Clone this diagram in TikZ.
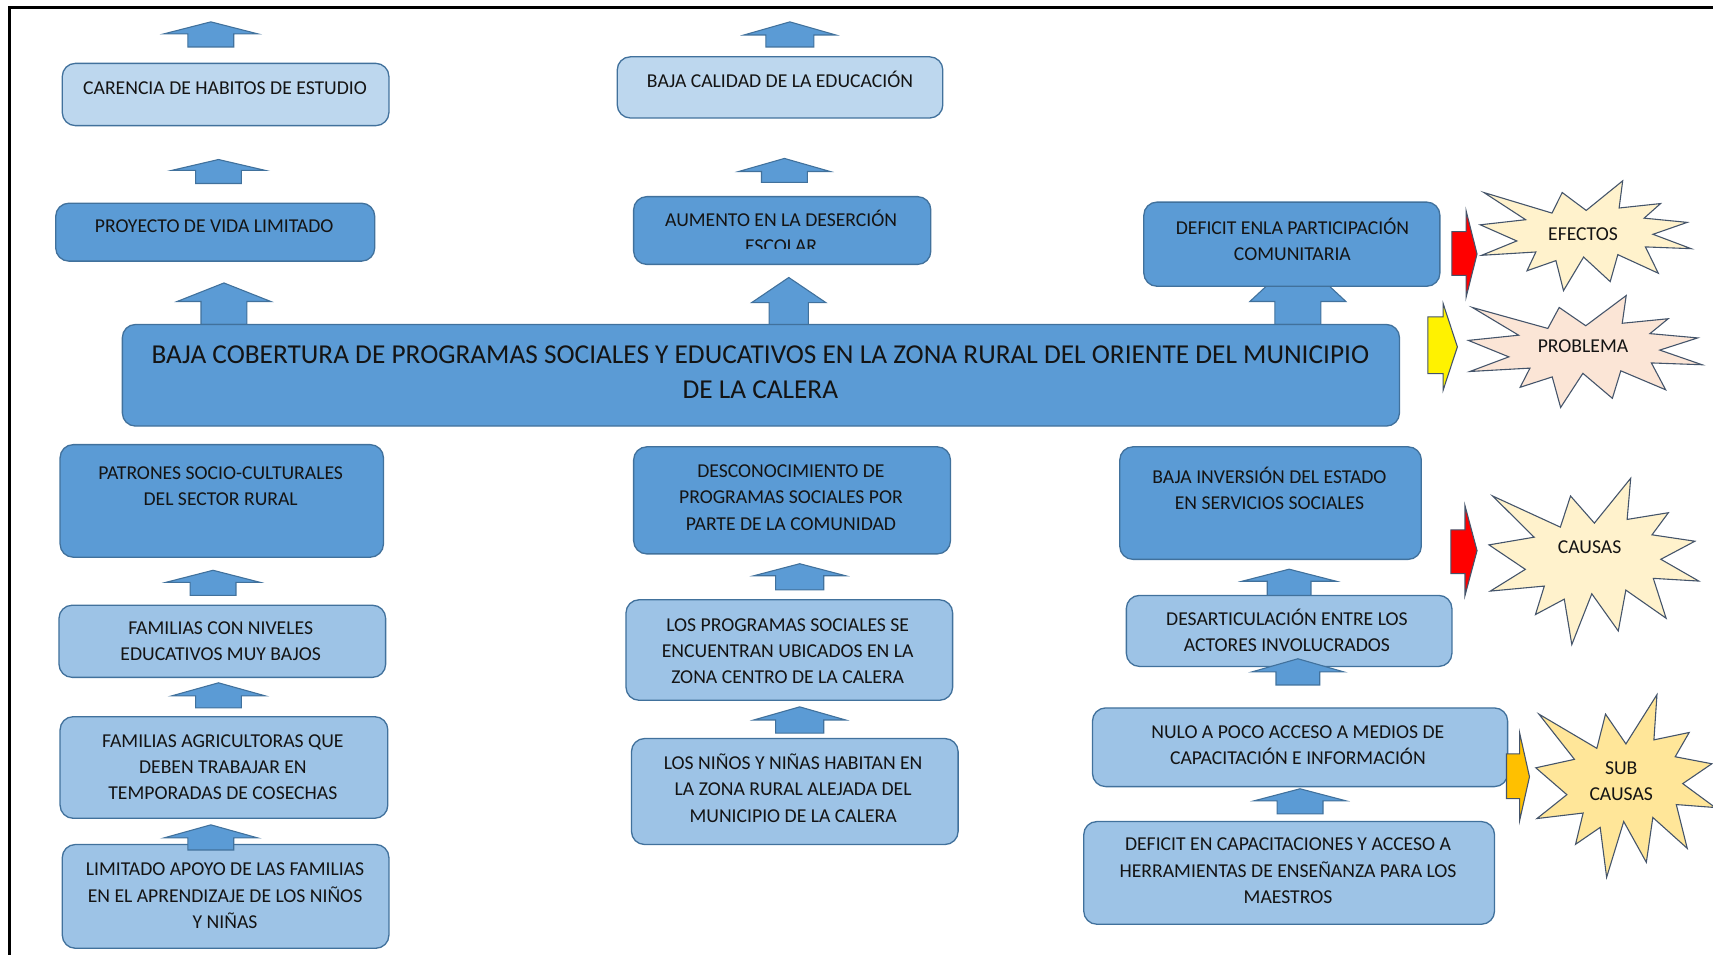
\documentclass[tikz,border=0pt]{standalone}
\usepackage{fontspec}
\setmainfont{Carlito}
\definecolor{boxline}{HTML}{41719C}
\definecolor{midfill}{HTML}{5B9BD5}
\definecolor{paleone}{HTML}{BDD7EE}
\definecolor{paletwo}{HTML}{9DC3E6}
\definecolor{txtcol}{HTML}{141414}
\definecolor{starline}{HTML}{44546A}
\definecolor{creamfill}{HTML}{FFF2CC}
\definecolor{peachfill}{HTML}{FBE5D6}
\definecolor{goldfill}{HTML}{FFE699}
\definecolor{orangefill}{HTML}{FFC000}
\newcommand\boxnode[6]{%
  \node[boxshape,#6,minimum width={(#4-#2)*0.5pt},minimum height={(#5-#3)*0.5pt}] (#1) at ({(#2+#4)/2},{(#3+#5)/2}) {};}
\newcommand\blkup[6]{%
  \draw[blkarrow] ({#1},{#2}) -- ({#1+#5},{#3}) -- ({#1+#6},{#3}) -- ({#1+#6},{#4}) -- ({#1-#6},{#4}) -- ({#1-#6},{#3}) -- ({#1-#5},{#3}) -- cycle;}
\newcommand\blkright[8]{%
  \draw[legarrow,fill=#8] ({#1},{#2}) -- ({#4},{#2}) -- ({#4},{#5}) -- ({#7},{(#5+#6)/2}) -- ({#4},{#6}) -- ({#4},{#3}) -- ({#1},{#3}) -- cycle;}
\newcommand\explosion[5]{%
  \begin{scope}[shift={(#1,#2)},xscale={#3/216},yscale={#4/216}]
  \draw[starshape,fill=#5] (109.01,59.05) -- (84.58,23.99) -- (74.17,64.25) -- (4.76,23.99) -- (47.32,77.22) -- (1.06,87.18) -- (38.28,118.80) -- (2.43,146.89) -- (57.72,140.41) -- (48.68,177.19) -- (78.19,157.30) -- (85.90,216.00) -- (106.37,150.38) -- (133.49,198.40) -- (141.25,145.61) -- (182.48,181.95) -- (169.38,130.44) -- (216.00,133.93) -- (177.10,105.79) -- (211.98,82.42) -- (168.06,74.17) -- (184.82,45.60) -- (142.57,54.29) -- (146.23,1.06) -- cycle;
  \end{scope}}
\begin{document}
\begin{tikzpicture}[x=0.5pt,y=-0.5pt,
  boxshape/.style={draw=boxline,line width=0.6pt,rounded corners=6pt,inner sep=0pt,rectangle},
  midbox/.style={fill=midfill},
  paleonebox/.style={fill=paleone},
  paletwobox/.style={fill=paletwo},
  txt/.style={font=\fontsize{9}{12}\selectfont,align=center,text=txtcol,inner sep=0pt},
  bigtxt/.style={font=\fontsize{12.5}{16}\selectfont,align=center,text=txtcol,inner sep=0pt},
  blkarrow/.style={draw=boxline,fill=midfill,line width=0.5pt,line join=miter},
  legarrow/.style={draw=starline,line width=0.5pt,line join=miter},
  starshape/.style={draw=starline,line width=0.5pt,line join=miter},
  frameline/.style={draw=black,line width=1.4pt}]
\useasboundingbox (0,0) rectangle (1568,874);
% frame
\draw[frameline] (9,874) -- (9,7) -- (1568,7);
% arrows under boxes
\blkup{205}{259}{276}{297}{43}{21}
\blkup{722}{254}{277}{298}{34}{18}
\blkup{1188}{235}{276}{297}{44}{21}
% boxes
\boxnode{e1}{57}{58}{356}{115}{paleonebox}
\boxnode{e2}{565}{52}{863}{108}{paleonebox}
\boxnode{e3}{51}{186}{343}{239}{midbox}
\boxnode{e4}{580}{180}{852}{242}{midbox}
\boxnode{e5}{1047}{185}{1318}{262}{midbox}
\boxnode{prob}{112}{297}{1281}{390}{midbox}
\boxnode{c1}{55}{407}{351}{510}{midbox}
\boxnode{c2}{580}{409}{870}{507}{midbox}
\boxnode{c3}{1025}{409}{1301}{512}{midbox}
\boxnode{s11}{54}{554}{353}{620}{paletwobox}
\boxnode{s12}{55}{656}{355}{749}{paletwobox}
\boxnode{s13}{57}{773}{356}{868}{paletwobox}
\boxnode{s21}{573}{549}{872}{641}{paletwobox}
\boxnode{s22}{578}{676}{877}{773}{paletwobox}
\boxnode{s31}{1031}{545}{1329}{610}{paletwobox}
\boxnode{s32}{1000}{648}{1380}{720}{paletwobox}
\boxnode{s33}{992}{752}{1368}{846}{paletwobox}
% other arrows
\blkup{193}{20}{31}{43}{43}{21}
\blkup{200}{146}{156}{168}{43}{21}
\blkup{723}{20}{32}{43}{42}{22}
\blkup{718}{145}{157}{167}{42}{21}
\blkup{195}{522}{533}{545}{43}{21}
\blkup{200}{625}{637}{648}{43}{21}
\blkup{193}{755}{767}{778}{43}{21}
\blkup{732}{516}{527}{540}{42}{22}
\blkup{732}{647}{659}{671}{42}{22}
\blkup{1180}{521}{532}{545}{43}{20}
\blkup{1188}{603}{615}{627}{42}{20}
\blkup{1190}{722}{733}{745}{42}{21}
% texts
\node[txt] (te1) at (206,81) {CARENCIA DE HABITOS DE ESTUDIO};
\node[txt] (te2) at (714,73) {BAJA CALIDAD DE LA EDUCACIÓN};
\node[txt] (te3) at (196,207) {PROYECTO DE VIDA LIMITADO};
\begin{scope}
\clip (580,180) rectangle (852,227);
\node[txt] (te4) at (715,212) {AUMENTO EN LA DESERCIÓN\\ESCOLAR};
\end{scope}
\node[txt] (te5) at (1183,219) {DEFICIT ENLA PARTICIPACIÓN\\COMUNITARIA};
\node[bigtxt] (tprob) at (696,341) {BAJA COBERTURA DE PROGRAMAS SOCIALES Y EDUCATIVOS EN LA ZONA RURAL DEL ORIENTE DEL MUNICIPIO\\DE LA CALERA};
\node[txt] (tc1) at (202,445) {PATRONES SOCIO-CULTURALES\\DEL SECTOR RURAL};
\node[txt] (tc2) at (724,455.5) {DESCONOCIMIENTO DE\\PROGRAMAS SOCIALES POR\\PARTE DE LA COMUNIDAD};
\node[txt] (tc3) at (1162,447) {BAJA INVERSIÓN DEL ESTADO\\EN SERVICIOS SOCIALES};
\node[txt] (ts11) at (202,587) {FAMILIAS CON NIVELES\\EDUCATIVOS MUY BAJOS};
\node[txt] (ts12) at (204,702) {FAMILIAS AGRICULTORAS QUE\\DEBEN TRABAJAR EN\\TEMPORADAS DE COSECHAS};
\node[txt] (ts13) at (206,820) {LIMITADO APOYO DE LAS FAMILIAS\\EN EL APRENDIZAJE DE LOS NIÑOS\\Y NIÑAS};
\node[txt] (ts21) at (721,596) {LOS PROGRAMAS SOCIALES SE\\ENCUENTRAN UBICADOS EN LA\\ZONA CENTRO DE LA CALERA};
\node[txt] (ts22) at (726,721.5) {LOS NIÑOS Y NIÑAS HABITAN EN\\LA ZONA RURAL ALEJADA DEL\\MUNICIPIO DE LA CALERA};
\node[txt] (ts31) at (1178,577) {DESARTICULACIÓN ENTRE LOS\\ACTORES INVOLUCRADOS};
\node[txt] (ts32) at (1188,682) {NULO A POCO ACCESO A MEDIOS DE\\CAPACITACIÓN E INFORMACIÓN};
\node[txt] (ts33) at (1179,797) {DEFICIT EN CAPACITACIONES Y ACCESO A\\HERRAMIENTAS DE ENSEÑANZA PARA LOS\\MAESTROS};
% legend arrows
\blkright{1329}{212}{252}{1342}{193}{272}{1352}{red}
\blkright{1307}{290}{342}{1321}{278}{357}{1334}{yellow}
\blkright{1328}{485}{525}{1341}{463}{545}{1352}{red}
\blkright{1379}{690}{731}{1391}{671}{751}{1400}{orangefill}
% stars
\explosion{1354}{165}{194}{101}{creamfill}
\explosion{1343}{270}{215}{103}{peachfill}
\explosion{1362}{437}{193}{153}{creamfill}
\explosion{1405}{635}{165}{168}{goldfill}
\node[txt] (tef) at (1449,214) {EFECTOS};
\node[txt] (tpr) at (1449,317) {PROBLEMA};
\node[txt] (tca) at (1455,501) {CAUSAS};
\node[txt] (tsc) at (1484,715) {SUB\\CAUSAS};
\end{tikzpicture}
\end{document}
